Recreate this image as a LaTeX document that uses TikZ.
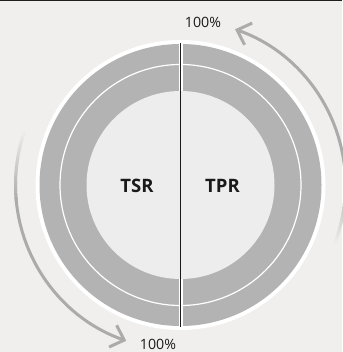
\documentclass[tikz,border=0pt]{standalone}
\usepackage{fontspec}
\setmainfont{Open Sans}
\usetikzlibrary{arrows.meta}
\definecolor{bg}{HTML}{F0EFED}
\definecolor{ring}{HTML}{B3B3B3}
\definecolor{core}{HTML}{EDEDED}
\definecolor{arr}{HTML}{ABABAB}
\definecolor{topbar}{HTML}{1E1E1E}
\definecolor{ink}{HTML}{1A1A1A}
\begin{document}
\begin{tikzpicture}[x=1pt,y=1pt,
  arcline/.style={line width=3pt, line cap=butt},
  barb/.style={-{Straight Barb[length=12pt,width=23pt]}},
  pct/.style={font=\fontsize{14.2}{15}\selectfont, text=ink, inner sep=0pt, anchor=base},
  lbl/.style={font=\bfseries\fontsize{18.5}{20}\selectfont, text=ink, inner sep=0pt, anchor=base}]
\useasboundingbox (0,0) rectangle (342,352);
\fill[bg] (0,0) rectangle (342,352);
\fill[topbar] (0,350.8) rectangle (342,352);
\coordinate (c) at (180.5,167);
\coordinate (ltop) at (180.5,309);
\coordinate (lbot) at (180.5,25);
\fill[white] (c) circle[radius=145];
\fill[ring] (c) circle[radius=141];
\draw[white, line width=1.2pt] (c) circle[radius=120.5];
\fill[white] (178.5,22) rectangle (182.5,312);
\fill[core] (c) circle[radius=94];
\draw[ink, line width=1pt] (ltop) -- (lbot);
% left arc
\foreach \i in {0,...,24} {
  \pgfmathtruncatemacro\p{4*\i}
  \draw[arcline, draw=arr!\p!bg] ([shift={(160+\i:165)}]c) arc[start angle=160+\i, end angle=161.5+\i, radius=165];
}
\draw[arcline, arr, barb] ([shift={(184.5:165)}]c) arc[start angle=184.5, end angle=250.8, radius=165];
% right arc
\foreach \i in {0,...,24} {
  \pgfmathtruncatemacro\p{4*\i}
  \draw[arcline, draw=arr!\p!bg] ([shift={(-22+\i:165)}]c) arc[start angle=-22+\i, end angle=-20.5+\i, radius=165];
}
\draw[arcline, arr, barb] ([shift={(2.5:165)}]c) arc[start angle=2.5, end angle=70.7, radius=165];
\node[pct] (t1) at (203,324.7) {100\%};
\node[pct] (t2) at (158,2) {100\%};
\node[lbl] (tsr) at (137,159.7) {TSR};
\node[lbl] (tpr) at (222.5,159.7) {TPR};
\end{tikzpicture}
\end{document}
